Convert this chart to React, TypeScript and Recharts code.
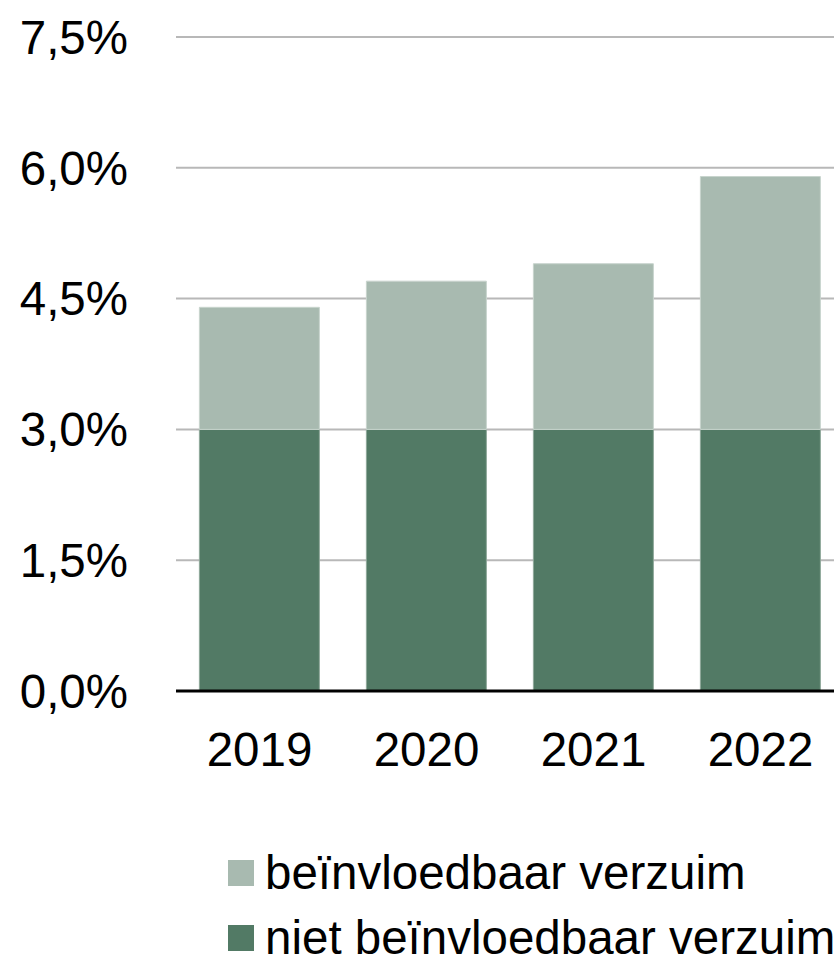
import React from "react";
import { BarChart, Bar, XAxis, YAxis, CartesianGrid, Legend } from "recharts";

const years = ["2019", "2020", "2021", "2022"];
const nietBeinvloedbaar = [3.0, 3.0, 3.0, 3.0];
const beinvloedbaar = [1.4, 1.7, 1.9, 2.9];
const yTicks = [0, 1.5, 3.0, 4.5, 6.0, 7.5];

const DARK = "#527A65";
const LIGHT = "#A8BAB0";
const FONT = "'Liberation Sans', Arial, Helvetica, sans-serif";
const FS = 47.5;

const data = years.map((y, i) => ({
  year: y,
  niet: nietBeinvloedbaar[i],
  beinv: beinvloedbaar[i],
}));

const legendItems = [
  { label: "beïnvloedbaar verzuim", color: LIGHT },
  { label: "niet beïnvloedbaar verzuim", color: DARK },
];

const LegendContent = () => (
  <div style={{ paddingLeft: 228, fontFamily: FONT, fontSize: FS, color: "#000" }}>
    {legendItems.map((it) => (
      <div
        key={it.label}
        style={{ height: 65, display: "flex", alignItems: "center", whiteSpace: "nowrap" }}
      >
        <span
          style={{ display: "inline-block", flex: "none", width: 26, height: 26, background: it.color, marginRight: 11 }}
        />
        <span>{it.label}</span>
      </div>
    ))}
  </div>
);

export default function App() {
  return (
    <div
      style={{
        position: "absolute",
        left: 0,
        top: 0,
        width: 834,
        height: 954,
        overflow: "hidden",
        background: "#fff",
      }}
    >
      <BarChart
        width={860}
        height={970}
        data={data}
        margin={{ top: 37, right: 16, left: 0, bottom: 0 }}
        barCategoryGap="14%"
      >
        <CartesianGrid vertical={false} stroke="#b8b8b8" strokeWidth={2} />
        <XAxis
          dataKey="year"
          height={149}
          tickLine={false}
          tickSize={0}
          tickMargin={41}
          axisLine={{ stroke: "#000", strokeWidth: 3 }}
          tick={{ fill: "#000", fontSize: FS, fontFamily: FONT }}
        />
        <YAxis
          width={176}
          domain={[0, 7.5]}
          ticks={yTicks}
          interval={0}
          axisLine={false}
          tickLine={false}
          tickSize={0}
          tickMargin={48}
          tickFormatter={(v: number) => v.toFixed(1).replace(".", ",") + "%"}
          tick={{ fill: "#000", fontSize: FS, fontFamily: FONT }}
        />
        <Legend verticalAlign="bottom" align="left" content={<LegendContent />} />
        <Bar
          dataKey="niet"
          stackId="a"
          fill={DARK}
          stroke="#8fa89a"
          strokeWidth={1}
          isAnimationActive={false}
        />
        <Bar
          dataKey="beinv"
          stackId="a"
          fill={LIGHT}
          stroke="#c8d4cd"
          strokeWidth={1}
          isAnimationActive={false}
        />
      </BarChart>
    </div>
  );
}
